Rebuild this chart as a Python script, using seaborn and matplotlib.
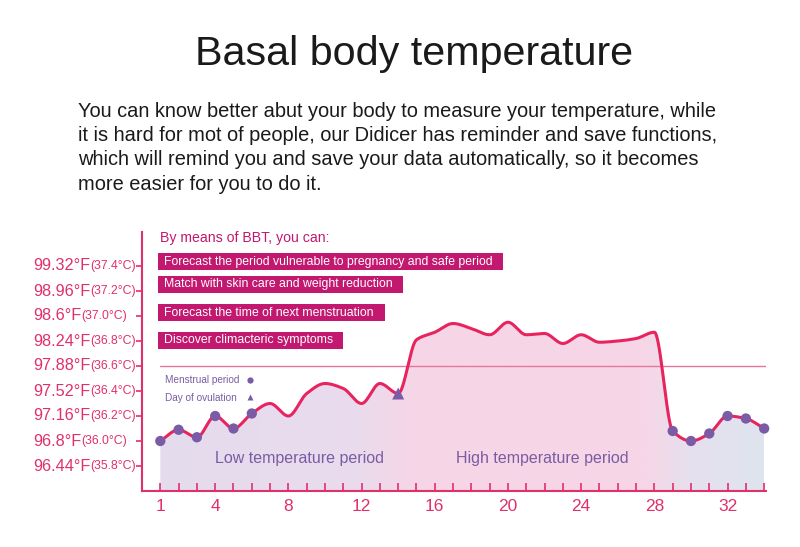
import numpy as np
import pandas as pd
import matplotlib
matplotlib.use("Agg")
import matplotlib.pyplot as plt
from matplotlib.patches import Rectangle
from matplotlib.colors import LinearSegmentedColormap
import matplotlib.transforms as mtransforms
import seaborn as sns

# ---------------- data ----------------
days = list(range(1, 35))
temps_c = [36.00, 36.09, 36.03, 36.20, 36.10, 36.22, 36.30, 36.20, 36.38, 36.46,
           36.42, 36.30, 36.46, 36.38, 36.81, 36.87, 36.94, 36.90, 36.85, 36.95,
           36.85, 36.86, 36.78, 36.85, 36.79, 36.80, 36.82, 36.87, 36.08, 36.00,
           36.06, 36.20, 36.18, 36.10]
menstrual_days = [1, 2, 3, 4, 5, 6, 29, 30, 31, 32, 33, 34]
ovulation_day = [14]
ytick_c = [37.4, 37.2, 37.0, 36.8, 36.6, 36.4, 36.2, 36.0, 35.8]
ytick_f_labels = ["99.32°F", "98.96°F", "98.6°F", "98.24°F", "97.88°F",
                  "97.52°F", "97.16°F", "96.8°F", "96.44°F"]
ytick_c_labels = ["(37.4°C)", "(37.2°C)", "(37.0°C)", "(36.8°C)", "(36.6°C)",
                  "(36.4°C)", "(36.2°C)", "(36.0°C)", "(35.8°C)"]
xtick_labels = [1, 4, 8, 12, 16, 20, 24, 28, 32]
banners = ["Forecast the period vulnerable to pregnancy and safe period",
           "Match with skin care and weight reduction",
           "Forecast the time of next menstruation",
           "Discover climacteric symptoms"]
title = "Basal body temperature"
paragraph_lines = [
    "You can know better abut your body to measure your temperature, while",
    "it is hard for mot of people, our Didicer has reminder and save functions,",
    "which will remind you and save your data automatically, so it becomes",
    "more easier for you to do it.",
]
reference_c = 36.6

# ---------------- style ----------------
sns.set_theme(style="white")
plt.rcParams['font.family'] = ['Liberation Sans', 'DejaVu Sans']

PINK = "#e0306a"
LINE = "#e8245e"
PURPLE = "#7b5aa6"
BANNER = "#c2186f"
TXT = "#1a1a1a"

W, H = 800, 547
fig = plt.figure(figsize=(8, 5.47), dpi=100)
fig.patch.set_facecolor("white")


def fx(px):
    return px / W


def fy(py):
    return 1 - py / H


ax = fig.add_axes([fx(142), fy(491), fx(766) - fx(142), fy(232) - fy(491)])
ax.set_xlim(0, 34.1)
ax.set_ylim(35.6, 37.672)
ax.set_facecolor("none")
ax.set_axisbelow(False)


# ---- smooth monotone (PCHIP) curve for rendering ----
def pchip(x, y, xs):
    x = np.asarray(x, float)
    y = np.asarray(y, float)
    h = np.diff(x)
    d = np.diff(y) / h
    n = len(x)
    m = np.zeros(n)
    for k in range(1, n - 1):
        if d[k - 1] * d[k] <= 0:
            m[k] = 0
        else:
            w1 = 2 * h[k] + h[k - 1]
            w2 = h[k] + 2 * h[k - 1]
            m[k] = (w1 + w2) / (w1 / d[k - 1] + w2 / d[k])
    m[0] = d[0]
    m[-1] = d[-1]
    idx = np.clip(np.searchsorted(x, xs) - 1, 0, n - 2)
    t = (xs - x[idx]) / h[idx]
    h00 = 2 * t**3 - 3 * t**2 + 1
    h10 = t**3 - 2 * t**2 + t
    h01 = -2 * t**3 + 3 * t**2
    h11 = t**3 - t**2
    return h00 * y[idx] + h10 * h[idx] * m[idx] + h01 * y[idx + 1] + h11 * h[idx] * m[idx + 1]


xs = np.linspace(days[0], days[-1], 1200)
ys = pchip(days, temps_c, xs)
curve = pd.DataFrame({"day": xs, "temp": ys})

# gradient fill under curve
stops = [(0.0, "#e4dcee"), (0.33, "#eadbed"), (0.42, "#f6d6e7"),
         (0.80, "#f7d6e6"), (0.88, "#e6e0ee"), (1.0, "#dee4ef")]
cmap = LinearSegmentedColormap.from_list("bbt", stops)
grad = np.linspace(0, 1, 512).reshape(1, -1)
im = ax.imshow(grad, cmap=cmap, aspect="auto",
               extent=[days[0], days[-1], 35.6, 37.672], zorder=1)
poly = ax.fill_between(xs, ys, 35.6, color="none", lw=0)
clip_path = poly.get_paths()[0]
im.set_clip_path(clip_path, transform=ax.transData)

# reference line
ax.plot([days[0], 34.1], [reference_c, reference_c], color="#e8769a", lw=1.0, zorder=2)

# curve
sns.lineplot(data=curve, x="day", y="temp", ax=ax, color=LINE, lw=2.2,
             zorder=3, legend=False)

df = pd.DataFrame({"day": days, "temp": temps_c})
mdf = df[df.day.isin(menstrual_days)]
odf = df[df.day.isin(ovulation_day)]
sns.scatterplot(data=mdf, x="day", y="temp", ax=ax, color=PURPLE, s=55,
                edgecolor="none", zorder=4, legend=False, clip_on=False)
sns.scatterplot(data=odf, x="day", y="temp", ax=ax, color=PURPLE, s=75,
                marker="^", edgecolor="none", zorder=4, legend=False)

# axes styling
for s in ["top", "right"]:
    ax.spines[s].set_visible(False)
for s in ["left", "bottom"]:
    ax.spines[s].set_color(PINK)
    ax.spines[s].set_linewidth(1.5)
    ax.spines[s].set_zorder(5)
ax.set_xlabel("")
ax.set_ylabel("")
ax.set_xticks(days)
ax.set_xticklabels([str(d) if d in xtick_labels else "" for d in days])
ax.tick_params(axis="x", direction="in", length=6, width=1.2, color=PINK,
               labelcolor=PINK, labelsize=12.5, pad=6, bottom=True)
ax.set_yticks(ytick_c)
ax.set_yticklabels([])
ax.tick_params(axis="y", direction="out", length=4, width=1.2, color=PINK, left=True)

# y labels: Fahrenheit big + Celsius small
trans = mtransforms.blended_transform_factory(fig.transFigure, ax.transData)
for c, fl, cl in zip(ytick_c, ytick_f_labels, ytick_c_labels):
    t = ax.text(fx(33), c, fl, transform=trans, ha="left", va="center",
                fontsize=11.7, color=PINK, clip_on=False)
    ax.annotate(cl, xy=(1, 0.12), xycoords=t, ha="left", va="bottom",
                fontsize=8.8, color=PINK, annotation_clip=False)

# period labels
ax.text(8.63, 35.864, "Low temperature period", ha="center", va="center",
        fontsize=11.5, color="#7a5ca3", zorder=5)
ax.text(21.86, 35.864, "High temperature period", ha="center", va="center",
        fontsize=11.5, color="#7a5ca3", zorder=5)

# legend text
fig.text(fx(165), fy(380), "Menstrual period", fontsize=7.2, color="#7a5ca3",
         ha="left", va="center")
fig.text(fx(165), fy(398), "Day of ovulation", fontsize=7.2, color="#7a5ca3",
         ha="left", va="center")
fig.add_artist(plt.Line2D([fx(250)], [fy(380)], marker="o", ms=4.5,
                          color=PURPLE, mec="none", transform=fig.transFigure))
fig.add_artist(plt.Line2D([fx(250)], [fy(397)], marker="^", ms=5,
                          color=PURPLE, mec="none", transform=fig.transFigure))

# banners
fig.text(fx(160), fy(238), "By means of BBT, you can:", fontsize=10.2,
         color=BANNER, ha="left", va="center")
banner_boxes = [(253, 503), (276, 403), (304, 385), (332, 343)]
for txt, (top, right) in zip(banners, banner_boxes):
    fig.add_artist(Rectangle((fx(158), fy(top + 17)), fx(right) - fx(158),
                             fy(top) - fy(top + 17), transform=fig.transFigure,
                             facecolor=BANNER, edgecolor="none"))
    fig.text(fx(164), fy(top + 8.5), txt, fontsize=8.8, color="white",
             ha="left", va="center")

# title and paragraph
fig.text(fx(414), fy(65), title, fontsize=29.7, color=TXT, ha="center",
         va="baseline")
for i, line in enumerate(paragraph_lines):
    fig.text(fx(78), fy(117 + 24.2 * i), line, fontsize=14.4, color=TXT,
             ha="left", va="baseline")

fig.savefig("out.png", dpi=100, facecolor="white")
